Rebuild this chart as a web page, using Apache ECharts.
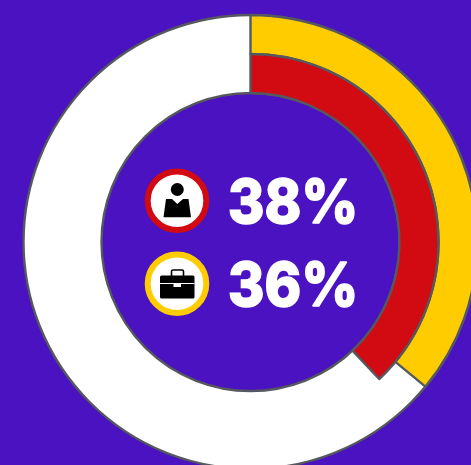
<!DOCTYPE html>
<html><head><meta charset="utf-8">
<style>html,body{margin:0;padding:0;background:#4a12c0}#c{width:471px;height:465px}</style>
<script src="https://cdn.jsdelivr.net/npm/echarts@6/dist/echarts.min.js"></script>
</head><body><div id="c"></div>
<script>
const ringBase = [100];
const workValues = [36, 64];
const personValues = [38, 62];
const labels = ['38%', '36%'];
const colors = {bg:'#4a12c0', yellow:'#ffcc00', red:'#d20a11', white:'#ffffff', edge:'#55585f'};
const center = [250.5, 242];
const chart = echarts.init(document.getElementById('c'), null, {renderer:'canvas'});
const hidden = {color:'transparent', borderWidth:0};
const border = c => ({color:c, borderColor:colors.edge, borderWidth:2.4});
const base = {type:'pie', center, silent:true, label:{show:false}, labelLine:{show:false}, animation:false, startAngle:90, clockwise:true, minAngle:0, avoidLabelOverlap:false, emphasis:{disabled:true}};
function badge(cy, ringColor, kids){
  return {type:'group', children:[
    {type:'circle', shape:{cx:177, cy, r:29.3}, style:{fill:'#fff', stroke:ringColor, lineWidth:6}},
    ...kids
  ]};
}
const textStyle = t => ({text:t, fill:'#fff', stroke:'#fff', lineWidth:1.6, font:'800 61px Inter', textVerticalAlign:'middle'});
chart.setOption({
  backgroundColor: colors.bg,
  series:[
    {...base, z:1, radius:[149,227], data:ringBase.map(v=>({value:v, itemStyle:border(colors.white)}))},
    {...base, z:2, radius:[188,227], data:[
      {value:workValues[0], itemStyle:border(colors.yellow)},
      {value:workValues[1], itemStyle:hidden}]},
    {...base, z:3, radius:[149,188], data:[
      {value:personValues[0], itemStyle:border(colors.red)},
      {value:personValues[1], itemStyle:hidden}]}
  ],
  graphic:{elements:[
    badge(200.7, colors.red, [
      {type:'circle', shape:{cx:177.3, cy:189.5, r:6.5}, style:{fill:'#000'}},
      {type:'polygon', shape:{points:[[166,199],[172,199],[177.3,204],[183,199],[188.5,199],[191,217.3],[163.5,217.3]]}, style:{fill:'#000'}}
    ]),
    badge(283.7, colors.yellow, [
      {type:'rect', shape:{x:171.5, y:270, width:12, height:8, r:1.5}, style:{fill:'none', stroke:'#000', lineWidth:1.6}},
      {type:'rect', shape:{x:160, y:275.5, width:34.5, height:23, r:1.5}, style:{fill:'#000'}},
      {type:'rect', shape:{x:160, y:283, width:34.5, height:1}, style:{fill:'#fff'}},
      {type:'rect', shape:{x:173.5, y:283, width:7.5, height:4}, style:{fill:'#fff'}}
    ]),
    {type:'text', x:228, y:205, scaleX:0.91, style:textStyle(labels[0])},
    {type:'text', x:228, y:288, scaleX:0.91, style:textStyle(labels[1])}
  ]}
});
</script></body></html>
